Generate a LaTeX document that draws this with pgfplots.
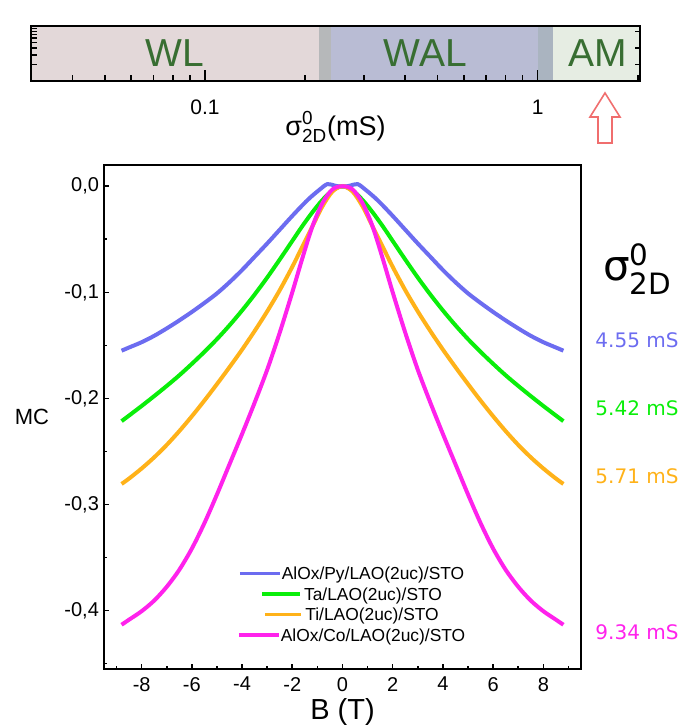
\documentclass[border=0pt]{standalone}
\usepackage{pgfplots}
\pgfplotsset{compat=1.18}
\usepackage{amsmath}
\usepackage{fontspec}
\setmainfont{Liberation Sans}
\newfontfamily\dvs{DejaVu Sans}

\definecolor{cBlue}{RGB}{108,108,240}
\definecolor{cGreen}{RGB}{10,238,10}
\definecolor{cOrange}{RGB}{255,178,25}
\definecolor{cMag}{RGB}{255,34,236}
\definecolor{cWL}{RGB}{227,216,217}
\definecolor{cGap1}{RGB}{182,184,186}
\definecolor{cWAL}{RGB}{185,188,212}
\definecolor{cGap2}{RGB}{170,180,192}
\definecolor{cAM}{RGB}{230,237,227}
\definecolor{cText}{RGB}{56,110,50}
\definecolor{cArrow}{RGB}{240,110,110}

\begin{document}
\begin{tikzpicture}
\path[use as bounding box] (-52pt,-28.5pt) rectangle (288pt,334.5pt);

% ---- main MC(B) panel ----
\begin{axis}[
    at={(0pt,0pt)}, anchor=south west, scale only axis,
    width=238.5pt, height=252pt,
    xmin=-9.5, xmax=9.5, ymin=-0.455, ymax=0.02,
    xtick={-8,-6,-4,-2,0,2,4,6,8},
    minor xtick={-9,-7,-5,-3,-1,1,3,5,7,9},
    ytick={-0.4,-0.3,-0.2,-0.1,0},
    minor ytick={-0.45,-0.35,-0.25,-0.15,-0.05},
    xtick pos=bottom, ytick pos=left, tick align=inside,
    major tick length=2.5pt, minor tick length=1.5pt,
    tick style={black, line width=0.8pt},
    axis line style={line width=1pt},
    /pgf/number format/assume math mode=true,
    ticklabel style={font=\fontsize{10}{11}\selectfont},
    xticklabel style={yshift=-0.5pt},
    yticklabel style={xshift=1pt, /pgf/number format/.cd, use comma, fixed, fixed zerofill, precision=1},
    xlabel={B (T)},
    xlabel style={font=\fontsize{14.5}{16}\selectfont, at={(axis description cs:0.5,0)}, anchor=center, yshift=-21.5pt},
    ylabel={MC},
    ylabel style={font=\fontsize{11}{13}\selectfont, rotate=-90, at={(axis description cs:0,0.5)}, anchor=center, xshift=-36pt},
    legend image code/.code={},
    legend cell align=center,
    legend style={at={(axis description cs:0.52,0.125)}, anchor=center, draw=none, fill=none,
        font=\fontsize{8.7}{10}\selectfont, row sep=1.8pt,
        nodes={inner sep=0pt, text height=6.5pt, text depth=2pt}},
    every axis plot/.append style={line width=2pt, smooth, tension=0.5},
]
\addplot[cBlue] coordinates {
 (-8.8,-0.155) (-8.5,-0.152) (-8.0,-0.147) (-7.5,-0.141) (-7.0,-0.134) (-6.5,-0.1265)
 (-6.0,-0.1185) (-5.5,-0.110) (-5.0,-0.101) (-4.5,-0.0905) (-4.0,-0.079) (-3.5,-0.0665)
 (-3.0,-0.054) (-2.5,-0.041) (-2.0,-0.028) (-1.6,-0.018) (-1.3,-0.011) (-0.9,-0.003)
 (-0.6,0.002) (-0.3,0.0005) (0,-0.0005) (0.3,0.0005) (0.6,0.002) (0.9,-0.003)
 (1.3,-0.011) (1.6,-0.018) (2.0,-0.028) (2.5,-0.041) (3.0,-0.054) (3.5,-0.0665)
 (4.0,-0.079) (4.5,-0.0905) (5.0,-0.101) (5.5,-0.110) (6.0,-0.1185) (6.5,-0.1265)
 (7.0,-0.134) (7.5,-0.141) (8.0,-0.147) (8.5,-0.152) (8.8,-0.155)};
\addplot[cGreen] coordinates {
 (-8.8,-0.2214) (-8.5,-0.2161) (-8.0,-0.2071) (-7.5,-0.1978) (-7.0,-0.1882) (-6.5,-0.1782)
 (-6.0,-0.1674) (-5.5,-0.1561) (-5.0,-0.1441) (-4.5,-0.1311) (-4.0,-0.1171) (-3.5,-0.1021)
 (-3.0,-0.0861) (-2.5,-0.0691) (-2.0,-0.0516) (-1.6,-0.0376) (-1.2,-0.0246) (-0.8,-0.013)
 (-0.4,-0.004) (0,0) (0.4,-0.004) (0.8,-0.013) (1.2,-0.0246) (1.6,-0.0376) (2.0,-0.0516)
 (2.5,-0.0691) (3.0,-0.0861) (3.5,-0.1021) (4.0,-0.1171) (4.5,-0.1311) (5.0,-0.1441)
 (5.5,-0.1561) (6.0,-0.1674) (6.5,-0.1782) (7.0,-0.1882) (7.5,-0.1978) (8.0,-0.2071)
 (8.5,-0.2161) (8.8,-0.2214)};
\addplot[cOrange] coordinates {
 (-8.8,-0.2806) (-8.5,-0.2755) (-8.0,-0.266) (-7.5,-0.2555) (-7.0,-0.2438) (-6.5,-0.2308)
 (-6.0,-0.2168) (-5.5,-0.202) (-5.0,-0.1865) (-4.5,-0.1705) (-4.0,-0.154) (-3.5,-0.1365)
 (-3.0,-0.118) (-2.5,-0.098) (-2.0,-0.076) (-1.6,-0.057) (-1.2,-0.038) (-0.8,-0.019)
 (-0.4,-0.005) (0,0) (0.4,-0.005) (0.8,-0.019) (1.2,-0.038) (1.6,-0.057) (2.0,-0.076)
 (2.5,-0.098) (3.0,-0.118) (3.5,-0.1365) (4.0,-0.154) (4.5,-0.1705) (5.0,-0.1865)
 (5.5,-0.202) (6.0,-0.2168) (6.5,-0.2308) (7.0,-0.2438) (7.5,-0.2555) (8.0,-0.266)
 (8.5,-0.2755) (8.8,-0.2806)};
\addplot[cMag] coordinates {
 (-8.8,-0.4133) (-8.5,-0.4085) (-8.0,-0.4005) (-7.5,-0.3905) (-7.0,-0.3775) (-6.5,-0.3615)
 (-6.0,-0.3415) (-5.5,-0.3175) (-5.0,-0.2905) (-4.5,-0.262) (-4.0,-0.2335) (-3.5,-0.204)
 (-3.0,-0.173) (-2.5,-0.138) (-2.0,-0.100) (-1.6,-0.068) (-1.2,-0.038) (-0.8,-0.016)
 (-0.4,-0.003) (0,0) (0.4,-0.003) (0.8,-0.016) (1.2,-0.038) (1.6,-0.068) (2.0,-0.100)
 (2.5,-0.138) (3.0,-0.173) (3.5,-0.204) (4.0,-0.2335) (4.5,-0.262) (5.0,-0.2905)
 (5.5,-0.3175) (6.0,-0.3415) (6.5,-0.3615) (7.0,-0.3775) (7.5,-0.3905) (8.0,-0.4005)
 (8.5,-0.4085) (8.8,-0.4133)};
\legend{
 {\textcolor{cBlue}{\rule[2.3pt]{20pt}{1.7pt}}\hspace{1pt}AlOx/Py/LAO(2uc)/STO},
 {\textcolor{cGreen}{\rule[2.3pt]{19pt}{1.7pt}}\hspace{2pt}Ta/LAO(2uc)/STO},
 {\textcolor{cOrange}{\rule[2.3pt]{18pt}{1.7pt}}\hspace{2pt}Ti/LAO(2uc)/STO},
 {\textcolor{cMag}{\rule[2.3pt]{20pt}{1.7pt}}\hspace{1pt}AlOx/Co/LAO(2uc)/STO}}
\end{axis}

% ---- regime bar ----
\begin{axis}[
    at={(-36.5pt,294pt)}, anchor=south west, scale only axis,
    width=304.5pt, height=27.5pt,
    xmode=log, ymode=log, xmin=0.03, xmax=2.03, ymin=1, ymax=10,
    xtick={0.1,1}, xticklabels={0.1,1},
    minor xtick={0.04,0.05,0.06,0.07,0.08,0.09,0.2,0.3,0.4,0.5,0.6,0.7,0.8,0.9,2},
    ytick={1,10}, yticklabels={}, minor ytick={2,3,4,5,6,7,8,9},
    xtick pos=bottom, ytick pos=left, tick align=inside,
    major tick length=5.5pt, minor tick length=3pt,
    tick style={black, line width=0.8pt},
    axis line style={line width=1pt},
    axis on top,
    ticklabel style={font=\fontsize{10.5}{12}\selectfont},
    xticklabel style={yshift=-6pt},
    xlabel={σ$^{\text{0}}_{\text{2D}}$(mS)},
    xlabel style={font=\fontsize{13.5}{15}\selectfont, at={(axis description cs:0.5,0)}, anchor=center, yshift=-23pt},
]
\addplot[draw=none, fill=cWL] coordinates {(0.03,1) (0.22,1) (0.22,10) (0.03,10)} -- cycle;
\addplot[draw=none, fill=cGap1] coordinates {(0.22,1) (0.24,1) (0.24,10) (0.22,10)} -- cycle;
\addplot[draw=none, fill=cWAL] coordinates {(0.24,1) (1.0,1) (1.0,10) (0.24,10)} -- cycle;
\addplot[draw=none, fill=cGap2] coordinates {(1.0,1) (1.11,1) (1.11,10) (1.0,10)} -- cycle;
\addplot[draw=none, fill=cAM] coordinates {(1.11,1) (2.03,1) (2.03,10) (1.11,10)} -- cycle;
\node[font=\fontsize{19.5}{20}\selectfont, text=cText] at (axis cs:0.081,3.2) {WL};
\node[font=\fontsize{19.5}{20}\selectfont, text=cText] at (axis cs:0.46,3.2) {WAL};
\node[font=\fontsize{19.5}{20}\selectfont, text=cText] at (axis cs:1.52,3.2) {AM};
\end{axis}
% right-hand ticks of the bar
\begin{axis}[
    at={(-36.5pt,294pt)}, anchor=south west, scale only axis,
    width=304.5pt, height=27.5pt,
    xmin=0, xmax=1, ymin=0, ymax=1,
    axis line style={draw=none},
    xtick=\empty, ytick={0.3,0.6,0.9}, yticklabels={},
    ytick pos=right, tick align=inside, major tick length=2.5pt,
    tick style={black, line width=0.8pt},
]
\end{axis}

% arrow marking the AM regime
\draw[cArrow, line width=0.8pt, line join=miter]
  (250.5pt,288pt) -- (258pt,276pt) -- (254pt,276pt) -- (254pt,263pt)
  -- (247pt,263pt) -- (247pt,276pt) -- (243pt,276pt) -- cycle;

% sheet conductance values
\node[font=\dvs\fontsize{21}{22}\selectfont] at (266.8pt,200pt) {σ$^{\text{0}}_{\text{2D}}$};
\node[font=\dvs\fontsize{10}{11}\selectfont, text=cBlue] at (266.5pt,164.5pt) {4.55 mS};
\node[font=\dvs\fontsize{10}{11}\selectfont, text=cGreen] at (266.5pt,130.5pt) {5.42 mS};
\node[font=\dvs\fontsize{10}{11}\selectfont, text=cOrange] at (266.5pt,96.5pt) {5.71 mS};
\node[font=\dvs\fontsize{10}{11}\selectfont, text=cMag] at (266.5pt,18.5pt) {9.34 mS};
\end{tikzpicture}
\end{document}
